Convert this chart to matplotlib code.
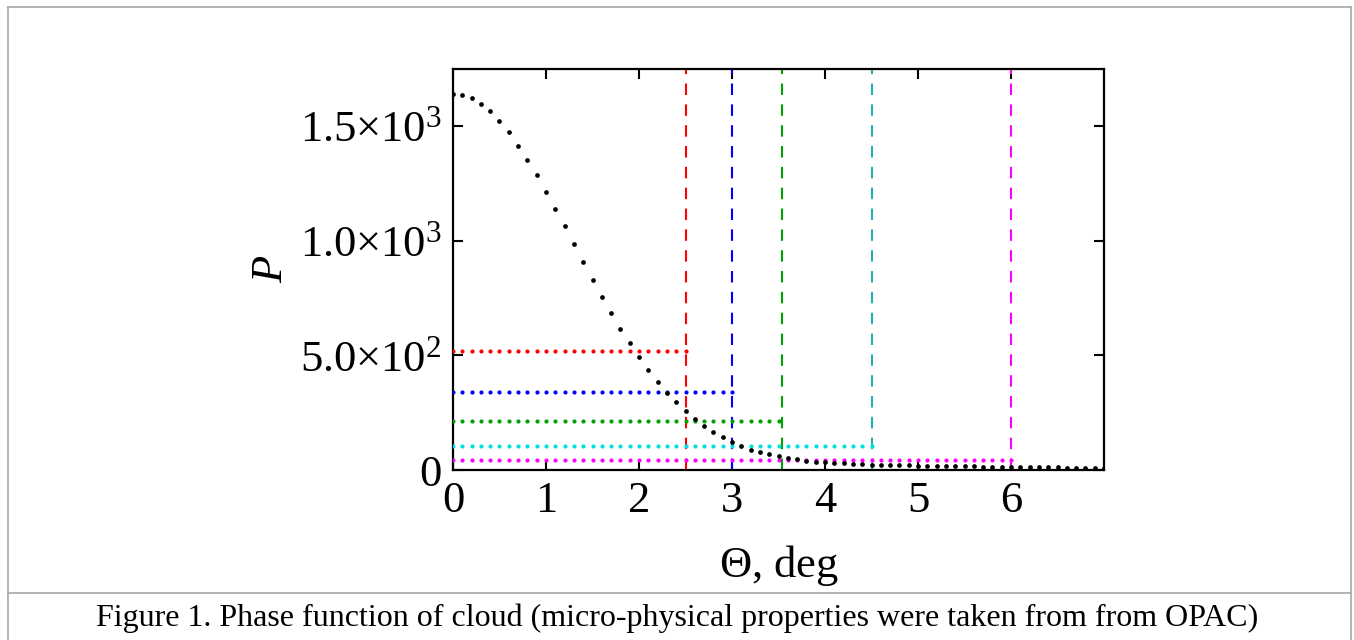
import matplotlib
matplotlib.use("Agg")
import matplotlib.pyplot as plt
from matplotlib.lines import Line2D
from matplotlib.ticker import FixedLocator, FuncFormatter
import numpy as np

plt.rcParams['font.family'] = ['Liberation Serif', 'DejaVu Serif']
plt.rcParams['mathtext.fontset'] = 'custom'
plt.rcParams['mathtext.rm'] = 'Liberation Serif'
plt.rcParams['mathtext.it'] = 'Liberation Serif:italic'

# phase function sampled every 0.1 deg
theta = np.round(np.arange(0, 7.05, 0.1), 1)
phase = [1643, 1637, 1622, 1598, 1565, 1521, 1473, 1416, 1353, 1286,
         1215, 1139, 1063, 986, 909, 831, 757, 686, 617, 553,
         491, 437, 385, 337, 297, 256, 221, 190, 165, 143,
         124, 105, 89, 78, 68, 59, 52, 46, 41, 37,
         34, 31, 29, 27, 25, 24, 23, 22, 21, 20,
         19, 18, 17.5, 17, 16.5, 16, 15.5, 15, 14.5, 14,
         13.5, 13, 12.5, 12, 11.5, 11, 10.5, 10, 9.5, 9, 8.5]

# cut-off angles and the levels marked for each
cut_angles = [2.5, 3.0, 3.54, 4.5, 6.0]
cut_levels = [520, 342, 214, 103, 45]
level_ends = [2.5, 3.0, 3.5, 4.5, 6.0]
vline_colors = ['#ff0000', '#0000ff', '#00a000', '#20b0b0', '#ff00ff']
dot_colors = ['#ff0000', '#0000ff', '#00a000', '#00e0e0', '#ff00ff']

fig = plt.figure(figsize=(13.54, 6.4), dpi=100)
ax = fig.add_axes([453 / 1354, 170 / 640, 651 / 1354, 401 / 640])

for xe, lev, c in zip(level_ends, cut_levels, dot_colors):
    xs = np.round(np.arange(0, xe + 0.001, 0.1), 1)
    ax.plot(xs, [lev] * len(xs), linestyle='none', marker='o',
            markersize=3.0, markeredgewidth=0, color=c, zorder=3)

for xa, c in zip(cut_angles, vline_colors):
    ax.axvline(xa, color=c, lw=1.5, linestyle=(0, (5.5, 4.5)), zorder=2)

ax.plot(theta, phase, linestyle='none', marker='o', markersize=3.4,
        markeredgewidth=0, color='black', zorder=4)

ax.set_xlim(0, 7)
ax.set_ylim(0, 1750)

ax.xaxis.set_major_locator(FixedLocator([0, 1, 2, 3, 4, 5, 6]))
ax.yaxis.set_major_locator(FixedLocator([0, 500, 1000, 1500]))
ylabels = {0: '0', 500: r'$5.0{\times}10^{2}$', 1000: r'$1.0{\times}10^{3}$',
           1500: r'$1.5{\times}10^{3}$'}
ax.yaxis.set_major_formatter(FuncFormatter(lambda v, p: ylabels.get(int(round(v)), '')))

ax.tick_params(direction='in', length=7, width=1.5, labelsize=32,
               top=True, right=True, pad=8)
for s in ax.spines.values():
    s.set_linewidth(1.6)

ax.set_xlabel(r'$\Theta$, deg', fontsize=32, labelpad=16)
ax.set_ylabel('P', fontsize=32, style='italic', labelpad=6)

# page frame and caption
gray = '#a8a8a8'
fig.add_artist(Line2D([8 / 1354, 1351 / 1354], [1 - 7 / 640] * 2, color=gray, lw=1.2))
fig.add_artist(Line2D([8 / 1354] * 2, [0, 1 - 7 / 640], color=gray, lw=1.2))
fig.add_artist(Line2D([1351 / 1354] * 2, [0, 1 - 7 / 640], color=gray, lw=1.2))
fig.add_artist(Line2D([8 / 1354, 1351 / 1354], [1 - 592.5 / 640] * 2, color=gray, lw=1.2))
fig.text(0.5, 1 - 618 / 640,
         'Figure 1. Phase function of cloud (micro-physical properties were taken from from OPAC)',
         ha='center', va='center', fontsize=23)

fig.savefig('out.png', dpi=100)
